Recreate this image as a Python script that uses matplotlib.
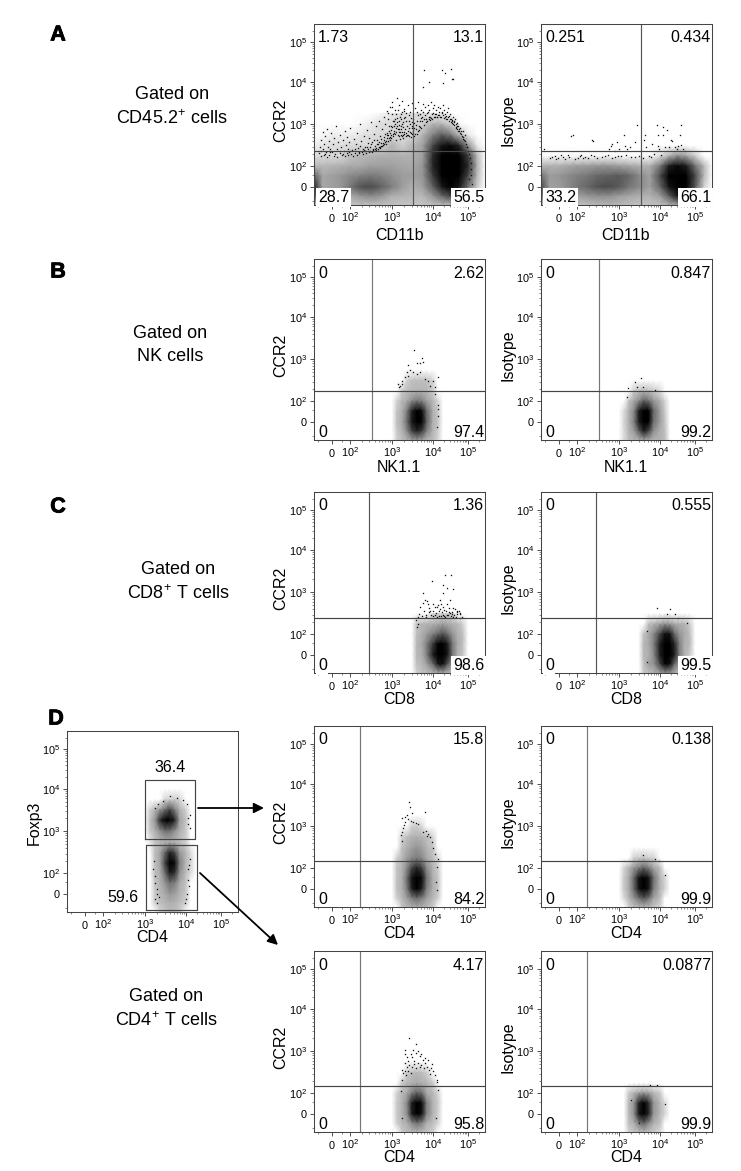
import numpy as np
import matplotlib
matplotlib.use('Agg')
import matplotlib.pyplot as plt
import matplotlib.patheffects as pe
from matplotlib.colors import LinearSegmentedColormap

plt.rcParams['font.family'] = ['Liberation Sans', 'DejaVu Sans']
plt.rcParams['mathtext.default'] = 'regular'

W, H = 741, 1171

#%%
# axis values and where they sit on the biexponential axis (pixels from axis start)
AXIS_VALUES = [-150, 0, 100, 1000, 10000, 100000, 300000]
X_AXIS_POS = [0, 18, 36, 78, 119, 154, 171]
Y_AXIS_POS = [0, 18, 39, 81, 123, 163, 181]
MAJOR_TICKS = [0, 100, 1000, 10000, 100000]
MAJOR_LABELS = ['0', '$10^{2}$', '$10^{3}$', '$10^{4}$', '$10^{5}$']
MINOR_TICKS = [-100, 50, 200, 300, 400, 500, 600, 700, 800, 900,
               2000, 3000, 4000, 5000, 6000, 7000, 8000, 9000,
               20000, 30000, 40000, 50000, 60000, 70000, 80000, 90000, 200000]

# density grids, darkness 0-100, rows top to bottom
WIDE_X = [-150, -60, 0, 45, 100, 180, 320, 560, 1000, 1800, 3200, 5600, 10000, 18000, 32000, 56000, 100000, 180000, 300000]
NARROW_X = [1000, 1320, 1750, 2300, 3050, 4000, 5300, 7000, 10000, 13800, 19000]
HIGH_X = [3050, 4000, 5300, 7000, 10000, 13800, 19000, 26000, 36000, 50000, 70000, 100000]

A1_Y = [1800, 1000, 560, 320, 180, 100, 45, 0, -60, -150]
A1_D = [
    [0, 0, 0, 0, 0, 0, 0, 1, 3, 4, 4, 4, 2, 1, 0, 0, 0, 0, 0],
    [0, 0, 0, 0, 0, 1, 2, 4, 6, 6, 6, 10, 28, 28, 10, 1, 0, 0, 0],
    [0, 1, 2, 2, 2, 3, 4, 6, 6, 6, 6, 28, 45, 55, 48, 25, 3, 0, 0],
    [2, 3, 4, 4, 5, 6, 6, 10, 28, 12, 28, 35, 62, 80, 85, 72, 40, 3, 0],
    [4, 5, 5, 6, 18, 25, 28, 30, 30, 30, 30, 35, 70, 95, 100, 90, 65, 25, 0],
    [25, 25, 28, 30, 32, 32, 35, 35, 35, 33, 32, 38, 72, 100, 100, 95, 70, 30, 0],
    [55, 33, 35, 38, 42, 45, 47, 45, 40, 36, 35, 38, 65, 95, 100, 90, 62, 25, 0],
    [75, 33, 35, 38, 48, 58, 60, 54, 45, 36, 30, 35, 55, 78, 92, 78, 50, 15, 0],
    [62, 28, 28, 28, 32, 38, 42, 38, 30, 28, 25, 25, 38, 52, 62, 55, 28, 5, 0],
    [20, 18, 18, 18, 18, 20, 20, 20, 20, 18, 18, 18, 22, 25, 25, 20, 10, 0, 0],
]
A2_Y = [320, 180, 100, 45, 0, -60, -150]
A2_D = [
    [0] * 19,
    [1, 1, 1, 1, 1, 1, 1, 1, 1, 1, 1, 1, 5, 30, 42, 35, 15, 0, 0],
    [28, 30, 30, 33, 35, 36, 38, 38, 36, 33, 30, 30, 48, 75, 85, 75, 50, 25, 0],
    [50, 36, 38, 42, 45, 48, 52, 54, 56, 52, 42, 35, 60, 90, 100, 95, 62, 25, 0],
    [62, 35, 36, 42, 48, 52, 58, 60, 56, 48, 42, 35, 52, 80, 100, 95, 58, 10, 0],
    [52, 28, 28, 30, 34, 38, 40, 40, 36, 33, 30, 28, 36, 55, 80, 70, 30, 0, 0],
    [20, 18, 18, 20, 20, 22, 25, 28, 25, 22, 20, 20, 22, 30, 35, 28, 10, 0, 0],
]
B1_Y = [560, 320, 180, 100, 45, 0, -60, -150]
B1_D = [
    [0] * 11,
    [0, 0, 0, 10, 20, 22, 22, 20, 8, 0, 0],
    [0, 0, 15, 22, 25, 28, 28, 25, 15, 0, 0],
    [0, 10, 25, 32, 42, 48, 45, 35, 25, 8, 0],
    [0, 18, 30, 46, 72, 92, 85, 52, 30, 15, 0],
    [0, 20, 32, 50, 78, 100, 90, 55, 30, 18, 0],
    [0, 15, 28, 42, 62, 72, 65, 45, 28, 12, 0],
    [0, 12, 22, 28, 35, 38, 35, 28, 22, 8, 0],
]
B2_Y = [320, 180, 100, 45, 0, -60, -150]
B2_D = [
    [0] * 11,
    [0, 0, 0, 15, 22, 25, 22, 15, 5, 0, 0],
    [0, 0, 20, 33, 42, 55, 50, 38, 30, 8, 0],
    [0, 5, 30, 42, 75, 100, 90, 52, 35, 15, 0],
    [0, 8, 30, 45, 75, 100, 90, 50, 35, 18, 0],
    [0, 5, 28, 36, 55, 75, 62, 40, 30, 22, 0],
    [0, 5, 22, 28, 30, 35, 32, 28, 28, 22, 0],
]
C1_Y = [320, 180, 100, 45, 0, -60, -150]
C1_D = [
    [0, 0, 0, 0, 5, 8, 10, 10, 8, 0, 0, 0],
    [0, 18, 25, 28, 30, 32, 35, 32, 28, 25, 12, 0],
    [0, 22, 30, 36, 45, 52, 58, 50, 38, 30, 22, 0],
    [0, 25, 32, 45, 65, 88, 100, 75, 48, 32, 22, 0],
    [0, 25, 30, 45, 75, 100, 100, 80, 48, 30, 18, 0],
    [0, 20, 25, 35, 52, 78, 82, 58, 35, 28, 10, 0],
    [0, 10, 20, 22, 28, 32, 32, 28, 25, 20, 0, 0],
]
C2_Y = [320, 180, 100, 45, 0, -60, -150]
C2_D = [
    [0] * 12,
    [0, 0, 22, 28, 35, 40, 38, 32, 30, 28, 15, 0],
    [0, 18, 32, 42, 62, 82, 80, 52, 38, 32, 22, 0],
    [0, 25, 32, 45, 75, 100, 100, 70, 45, 30, 25, 0],
    [0, 25, 30, 42, 75, 100, 100, 75, 45, 30, 15, 0],
    [0, 20, 35, 38, 62, 88, 82, 52, 35, 10, 0, 0],
    [0, 15, 22, 28, 35, 40, 38, 30, 20, 0, 0, 0],
]
D1_Y = [1800, 1000, 560, 320, 180, 100, 45, 0, -60, -150]
D1_D = [
    [0] * 11,
    [0, 0, 0, 0, 10, 12, 5, 0, 0, 0, 0],
    [0, 0, 10, 22, 28, 30, 28, 22, 8, 0, 0],
    [0, 0, 20, 30, 35, 38, 35, 28, 18, 0, 0],
    [0, 12, 25, 36, 42, 46, 42, 33, 22, 5, 0],
    [0, 18, 28, 42, 62, 72, 64, 42, 28, 12, 0],
    [0, 20, 30, 50, 80, 100, 85, 50, 30, 18, 0],
    [0, 20, 30, 46, 75, 90, 75, 46, 30, 18, 0],
    [0, 12, 25, 36, 46, 52, 46, 36, 25, 12, 0],
    [0, 0, 18, 25, 30, 32, 30, 25, 15, 0, 0],
]
D2_Y = [320, 180, 100, 45, 0, -60, -150]
D2_D = [
    [0] * 11,
    [0, 0, 0, 12, 15, 18, 12, 10, 0, 0, 0],
    [0, 8, 28, 38, 46, 54, 46, 34, 22, 0, 0],
    [0, 15, 32, 52, 82, 100, 80, 50, 28, 8, 0],
    [0, 15, 32, 52, 80, 100, 80, 46, 28, 10, 0],
    [0, 5, 28, 38, 50, 58, 50, 34, 22, 0, 0],
    [0, 0, 10, 22, 25, 28, 25, 18, 8, 0, 0],
]
E1_Y = [560, 320, 180, 100, 45, 0, -60, -150]
E1_D = [
    [0] * 11,
    [0, 0, 0, 12, 22, 25, 22, 12, 0, 0, 0],
    [0, 0, 15, 25, 30, 32, 30, 28, 15, 0, 0],
    [0, 10, 25, 32, 45, 54, 50, 32, 25, 8, 0],
    [0, 15, 28, 42, 75, 100, 85, 46, 28, 15, 0],
    [0, 15, 28, 40, 75, 100, 82, 45, 28, 12, 0],
    [0, 12, 25, 30, 42, 50, 44, 30, 22, 8, 0],
    [0, 0, 15, 22, 25, 28, 25, 20, 12, 0, 0],
]
E2_Y = [180, 100, 45, 0, -60, -150]
E2_D = [
    [0] * 11,
    [0, 0, 15, 28, 35, 38, 35, 25, 15, 0, 0],
    [0, 0, 25, 38, 72, 92, 68, 38, 25, 5, 0],
    [0, 0, 25, 40, 78, 100, 72, 38, 25, 8, 0],
    [0, 0, 22, 30, 46, 54, 42, 30, 20, 0, 0],
    [0, 0, 10, 18, 22, 25, 20, 15, 5, 0, 0],
]
F_Y = [10000, 5600, 3200, 1800, 1000, 560, 320, 180, 100, 45, 0, -60, -150]
F_D = [
    [0] * 11,
    [0, 0, 0, 0, 8, 12, 15, 8, 0, 0, 0],
    [0, 10, 28, 38, 50, 62, 46, 30, 12, 0, 0],
    [0, 20, 38, 68, 92, 100, 72, 35, 18, 0, 0],
    [0, 15, 30, 40, 50, 50, 40, 30, 15, 0, 0],
    [0, 3, 18, 25, 28, 30, 28, 22, 10, 0, 0],
    [0, 0, 22, 33, 52, 72, 62, 38, 25, 5, 0],
    [0, 0, 22, 33, 62, 100, 85, 46, 25, 8, 0],
    [0, 0, 22, 30, 50, 75, 68, 40, 22, 5, 0],
    [0, 0, 18, 28, 38, 50, 46, 32, 18, 0, 0],
    [0, 0, 15, 25, 32, 38, 35, 28, 15, 0, 0],
    [0, 0, 10, 20, 25, 30, 28, 22, 10, 0, 0],
    [0, 0, 0, 10, 18, 25, 22, 15, 0, 0, 0],
]

#%%
# single events
A1_DOTS = [
    (-90, 210), (-80, 300), (-75, 420), (-70, 180), (-60, 640), (-55, 260), (-50, 350), (-45, 200), (-40, 520),
    (-35, 230), (-30, 780), (-25, 300), (-20, 410), (-15, 190), (-10, 270), (-5, 610), (0, 220), (5, 340), (10, 480),
    (15, 200), (20, 890), (25, 260), (30, 380), (35, 215), (40, 560), (45, 300), (50, 190), (55, 430), (60, 240),
    (65, 700), (70, 330), (75, 210), (80, 500), (85, 270), (90, 390), (95, 225), (100, 820),
    (115, 250), (125, 450), (135, 215), (145, 340), (150, 620), (165, 280), (175, 230), (185, 980), (195, 400),
    (210, 260), (220, 520), (235, 300), (245, 240), (260, 740), (275, 360), (285, 265), (300, 480), (320, 290),
    (335, 1100), (350, 390), (365, 270), (380, 600), (400, 320), (420, 880), (440, 280), (460, 440), (480, 340), (500, 1200),
    (520, 300), (540, 520), (560, 360), (590, 780), (610, 330), (640, 1500), (660, 420), (690, 1000), (720, 350),
    (750, 2000), (770, 560), (800, 410), (830, 1300), (860, 700), (880, 430), (910, 2600), (940, 900), (970, 480),
    (1000, 3300), (1020, 1700), (1060, 520), (1100, 1150), (1140, 620), (1180, 2200), (1220, 800), (1260, 440),
    (1300, 4200), (1350, 1400), (1400, 560), (1450, 950), (1500, 2800), (1550, 640), (1600, 460), (1650, 1700),
    (1700, 780), (1750, 3600), (1800, 520), (1850, 1100), (1900, 480), (1950, 2300), (2000, 660),
    (900, 500), (1100, 700), (1300, 900), (1500, 1200), (700, 600), (800, 1800), (1000, 2600), (1200, 1300),
    (1500, 640), (1800, 1000), (2200, 1800), (2600, 800), (3000, 1100), (3500, 800), (4000, 1200), (4500, 900),
    (5000, 1400), (2000, 2000), (1700, 1300),
    (2100, 1500), (2200, 520), (2300, 880), (2400, 2900), (2500, 560), (2600, 1200), (2700, 660), (2800, 1900),
    (2900, 500), (3000, 800), (3100, 3100), (3200, 620), (3300, 1350), (3400, 520), (3600, 2400), (3800, 950),
    (4000, 600), (4200, 1600), (4400, 3400), (4600, 720), (4800, 1150), (5000, 2100), (5200, 800), (5500, 1500),
    (5800, 3000), (6000, 950), (6300, 2500), (6600, 1100), (7000, 1800), (7400, 2800), (7800, 1300), (8200, 2200),
    (8600, 1500), (9000, 3300), (9500, 1700), (10000, 2400),
    (10500, 1500), (11000, 2900), (11500, 1700), (12000, 2100), (12800, 1450), (13500, 2600), (14200, 1600),
    (15000, 1950), (16000, 2400), (17000, 1500), (18000, 1800), (19000, 2800), (20000, 1400), (21000, 2100),
    (22000, 1700), (23000, 1300), (24500, 1900), (26000, 1500), (27000, 2400), (29000, 1200), (31000, 1700),
    (33000, 1300), (35000, 1050), (37000, 1500), (39000, 1150), (41000, 950), (43000, 1300), (45000, 850),
    (48000, 1050), (50000, 750), (53000, 900), (56000, 680),
    (60000, 800), (65000, 600), (70000, 680), (72000, 500), (78000, 420), (80000, 560), (88000, 350), (92000, 290),
    (98000, 240), (105000, 200), (112000, 160), (118000, 120), (120000, 80), (125000, 50), (130000, 10),
    (115000, -20), (122000, -60), (110000, 30),
    (18000, 20000), (22000, 17000), (33000, 21000), (34000, 12000), (38000, 12000), (19000, 9500), (6000, 20000),
    (5600, 7500), (8000, 10000),
    # dense rim just over the main population
    (-70, 240), (-52, 190), (-33, 172), (-12, 225), (8, 182), (22, 172), (38, 240), (52, 205), (68, 178), (88, 196),
    (108, 205), (122, 178), (138, 262), (152, 195), (168, 212), (182, 320), (198, 226), (215, 198), (228, 248),
    (252, 212), (268, 295), (292, 222), (312, 240), (328, 350), (345, 232), (372, 250), (392, 420), (412, 262),
    (432, 250), (452, 340), (472, 270), (492, 298), (512, 380), (532, 288), (552, 305), (572, 450), (598, 315),
    (622, 360), (648, 340), (672, 500), (698, 380), (728, 410), (758, 470), (788, 620), (818, 560), (848, 480),
    (876, 900), (905, 610), (932, 720), (965, 560), (992, 840), (1030, 1150), (1075, 590), (1120, 910), (1165, 1000),
    (1210, 590), (1245, 1700), (1280, 660), (1325, 1100), (1370, 760), (1420, 2100), (1470, 780), (1520, 540),
    (1575, 1500), (1625, 900), (1675, 560), (1725, 1900), (1775, 640), (1825, 840), (1875, 560), (1925, 1400),
    (1975, 580), (2050, 780), (2150, 620), (2250, 1150), (2350, 560), (2450, 700), (2550, 1600), (2650, 520),
    (2750, 1000), (2850, 620), (2950, 1400), (3050, 580), (3150, 900), (3250, 680), (3450, 1050), (3650, 600),
    (3900, 760), (4100, 1900), (4300, 680), (4700, 1700), (4900, 850), (5300, 1200), (5700, 1950), (6100, 1300),
    (6500, 1600), (6900, 1300), (7300, 1150), (7700, 1950), (8100, 1500), (8500, 1250), (9000, 1400), (9600, 1350),
    (10200, 1800), (11200, 1450), (12300, 1750), (13200, 1500), (14800, 1650), (15800, 1500), (17500, 1950),
    (19500, 1600), (21500, 1500), (23500, 1550), (25200, 1300), (28000, 1550), (30000, 1300), (32000, 1100),
    (34000, 1200), (36000, 1250), (38000, 1000), (40000, 1100), (44000, 1000), (46000, 800), (49000, 900),
    (51000, 680), (55000, 780), (58000, 620), (62000, 680), (67000, 520), (74000, 460), (84000, 400), (95000, 300),
]
A2_DOTS = [
    (-110, 260), (70, 560), (60, 540), (240, 420), (250, 410), (640, 320), (700, 340), (880, 380), (1300, 560),
    (1400, 320), (2700, 950), (4200, 560), (4000, 420), (8300, 950), (8800, 560), (12000, 860), (12000, 560),
    (8800, 320), (21000, 420), (22000, 400), (39000, 950), (37000, 560), (33000, 320), (40000, 330), (1600, 260),
    (1000, 260), (600, 260), (800, 240), (-55, 160), (-25, 185), (-5, 160), (10, 190), (30, 155), (50, 175),
    (105, 165), (130, 190), (160, 170), (220, 190), (320, 165), (480, 180), (700, 165), (950, 185), (1900, 290),
    (2400, 380), (4600, 290), (6500, 350), (9500, 260), (14000, 300), (16000, 720), (18000, 290), (26000, 300),
    (30000, 270), (45000, 260), (52000, 240), (2000, 170), (3000, 185), (5500, 180), (7000, 200),
    (-40, 170), (-15, 152), (20, 168), (42, 190), (85, 155), (118, 180), (145, 158), (190, 165), (260, 178),
    (400, 170), (560, 190), (820, 172), (1150, 178), (1500, 190), (2400, 170), (3800, 165), (6200, 175), (10500, 190),
]
B1_DOTS = [
    (3500, 1640), (5300, 1040), (4000, 790), (2500, 720), (4800, 810), (5800, 860), (2750, 550), (3300, 500),
    (4000, 460), (4800, 500), (2280, 500), (2500, 415), (2070, 380), (1720, 320), (1570, 240), (1500, 220),
    (6400, 345), (10200, 320), (14200, 380), (8500, 240), (11400, 220), (13500, 75), (14200, 55), (13500, 25),
    (11400, 150), (12800, -30), (1400, 265), (1800, 265), (7700, 320),
]
B2_DOTS = [(3400, 375), (2450, 290), (2700, 220), (1660, 210), (1570, 125), (7500, 190), (3900, 230)]
C1_DOTS = [
    (22000, 2500), (32000, 2520), (9500, 1830), (19000, 1470), (5800, 930), (6400, 640), (19000, 930), (24600, 1220),
    (38000, 1200), (4800, 445), (5700, 548), (7100, 625), (8500, 372), (10300, 530), (12700, 455), (15800, 655),
    (19400, 460), (24800, 535), (30300, 640), (37500, 440), (47000, 375), (59500, 305), (66000, 262),
    (4600, 318), (5900, 362), (6900, 302), (8200, 438), (10100, 358), (12400, 322), (15300, 376), (19900, 298),
    (24000, 365), (31000, 322), (38500, 268), (47900, 315), (58000, 255), (4300, 262), (5300, 284), (7500, 545),
    (9100, 292), (11500, 442), (14100, 505), (17200, 282), (21000, 385), (27200, 292), (34500, 352), (42000, 412),
    (54000, 366), (13000, 272), (16100, 412), (22200, 268), (28400, 432), (3900, 222), (4300, 182), (4000, 150),
    (6600, 268), (7900, 355), (9900, 280), (11300, 300), (14700, 285), (18000, 342), (20600, 275), (25600, 290),
    (29300, 350), (33000, 280), (36000, 312), (41000, 290), (45000, 272), (50000, 340), (60000, 330), (16800, 520),
]
C2_DOTS = [
    (8300, 440), (19000, 410), (15500, 320), (26800, 320), (32600, 255), (58000, 195), (4700, 120), (4700, -40),
]
D1_DOTS = [
    (2640, 3800), (2750, 2900), (3000, 2000), (2280, 1830), (1720, 1520), (6400, 2190), (3300, 1270), (2070, 1270),
    (1900, 880), (1800, 730), (1720, 460), (5800, 730), (7700, 670), (9300, 420), (10200, 320), (11400, 225),
    (14200, 170), (12800, 105), (12400, 28), (12800, -5), (2400, 1500), (2900, 1350), (3800, 1150), (4300, 1100),
    (2100, 1600), (1950, 1050), (6800, 780), (7000, 600), (8300, 560), (1680, 620),
]
D2_DOTS = [(3800, 210), (7500, 170), (9500, 150), (14000, 60)]
E1_DOTS = [
    (2640, 2020), (3800, 1480), (2070, 1080), (2130, 870), (2260, 745), (2520, 590), (2830, 860), (3040, 715),
    (3280, 1040), (3760, 905), (4350, 1020), (4750, 760), (5200, 850), (5850, 625), (6300, 710), (2060, 525),
    (2300, 435), (2610, 490), (3020, 440), (3350, 590), (3520, 495), (3820, 405), (4260, 530), (4840, 435),
    (5240, 490), (5900, 405), (6480, 520), (6950, 435), (7800, 365), (8400, 300), (9400, 500), (2100, 340),
    (1880, 305), (1740, 370), (2250, 285), (2480, 345), (2900, 310), (1790, 215), (10100, 345), (11500, 285),
    (12700, 215), (14300, 122), (13300, 195), (1700, 112), (1800, -25), (12400, -25), (7600, 620), (9100, 410),
]
E2_DOTS = [(5600, 165), (2000, 60), (14000, 40), (3000, -60), (8500, 160)]
F_DOTS = [
    (4100, 7000), (1750, 3500), (2100, 4300), (8500, 5400), (10400, 4300), (11400, 2000), (13000, 2400), (11400, 1500),
    (13000, 1200), (2750, 5200), (5900, 6100), (1570, 125), (1750, 45), (1930, 0), (1750, -30), (1930, -60),
    (11400, 60), (13000, 230), (10400, 0), (9800, -30), (9300, -60), (2000, 20), (2150, -15), (11400, 125),
    (12000, 30), (1650, 200), (11800, 160), (1800, 80),
]

# quadrant numbers: upper left, upper right, lower left, lower right
A1_NUM = ['1.73', '13.1', '28.7', '56.5']
A2_NUM = ['0.251', '0.434', '33.2', '66.1']
B1_NUM = ['0', '2.62', '0', '97.4']
B2_NUM = ['0', '0.847', '0', '99.2']
C1_NUM = ['0', '1.36', '0', '98.6']
C2_NUM = ['0', '0.555', '0', '99.5']
D1_NUM = ['0', '15.8', '0', '84.2']
D2_NUM = ['0', '0.138', '0', '99.9']
E1_NUM = ['0', '4.17', '0', '95.8']
E2_NUM = ['0', '0.0877', '0', '99.9']

GATED_TEXT = ['Gated on\nCD45.2$^{+}$ cells', 'Gated on\nNK cells', 'Gated on\nCD8$^{+}$ T cells', 'Gated on\nCD4$^{+}$ T cells']
FOXP3_GATES = [(1000, 17800, 650, 16800), (1050, 21000, -130, 490)]
FOXP3_NUM = ['36.4', '59.6']

#%%
# steep at the light end so the populations get a clear edge, black plateau at the core
DARK = LinearSegmentedColormap.from_list('dark', [(0, '#ffffff'), (0.04, '#dcdcdc'), (0.3, '#b0b0b0'),
                                                  (0.5, '#707070'), (0.7, '#282828'), (0.9, '#000000'), (1, '#000000')])


def make_scale(pos):
    nodes = np.arcsinh(np.array(AXIS_VALUES) / 70.0)
    pos = np.array(pos, dtype=float)

    def forward(v):
        return np.interp(np.arcsinh(np.asarray(v, dtype=float) / 70.0), nodes, pos)

    def inverse(p):
        return 70.0 * np.sinh(np.interp(p, pos, nodes))
    return forward, inverse


fig = plt.figure(figsize=(W / 100, H / 100), dpi=100)
over = fig.add_axes([0, 0, 1, 1], zorder=10)
over.set_xlim(0, W)
over.set_ylim(H, 0)
over.axis('off')
over.patch.set_alpha(0)


def flow_panel(left, top, grid_x, grid_y, grid, dots):
    ax = fig.add_axes([left / W, 1 - (top + 181) / H, 171 / W, 181 / H])
    ax.set_xscale('function', functions=make_scale(X_AXIS_POS))
    ax.set_yscale('function', functions=make_scale(Y_AXIS_POS))
    ax.pcolormesh(grid_x, grid_y, np.array(grid, dtype=float), shading='gouraud', cmap=DARK, vmin=0, vmax=100, rasterized=True)
    ax.plot([d[0] for d in dots], [d[1] for d in dots], ls='', marker='s', ms=0.95, mew=0, color='#111111')
    ax.set_xlim(-150, 300000)
    ax.set_ylim(-150, 300000)
    for axis in (ax.xaxis, ax.yaxis):
        axis.set_ticks(MAJOR_TICKS, MAJOR_LABELS)
        axis.set_ticks(MINOR_TICKS, minor=True)
    ax.tick_params(which='major', length=3, width=0.6, color='#333333', labelsize=7.8, pad=2)
    ax.tick_params(axis='x', which='major', pad=9.2)
    ax.tick_params(which='minor', length=1.5, width=0.4, color='#333333')
    for lab in ax.get_xticklabels():
        lab.set_verticalalignment('baseline')
    for s in ax.spines.values():
        s.set_linewidth(0.75)
        s.set_color('#444444')
    return ax


def quad_panel(left, top, grid_x, grid_y, grid, dots, gate_x, gate_y, nums, xlabel, ylabel, boxed=False, xlabel_gap=28):
    ax = flow_panel(left, top, grid_x, grid_y, grid, dots)
    ax.axvline(gate_x, color='#555555' if boxed else '#777777', lw=0.85)
    ax.axhline(gate_y, color='#444444', lw=0.85)
    bottom = top + 181
    fs = 11.5
    over.text(left + 4, top + 14, nums[0], fontsize=fs, ha='left', va='center')
    over.text(left + 170, top + 14, nums[1], fontsize=fs, ha='right', va='center')
    box = dict(facecolor='white', edgecolor='none', pad=1.2) if boxed else None
    over.text(left + 4, bottom - 7.5, nums[2], fontsize=fs, ha='left', va='center', bbox=box)
    over.text(left + 170, bottom - 7.5, nums[3], fontsize=fs, ha='right', va='center', bbox=box)
    over.text(left + 85, bottom + xlabel_gap, xlabel, fontsize=fs, ha='center', va='center')
    over.text(left - 33, top + 96, ylabel, fontsize=fs, rotation=90, ha='center', va='center')
    return ax


quad_panel(314, 24, WIDE_X, A1_Y, A1_D, A1_DOTS, 3300, 240, A1_NUM, 'CD11b', 'CCR2', boxed=True, xlabel_gap=30)
quad_panel(541, 24, WIDE_X, A2_Y, A2_D, A2_DOTS, 3400, 240, A2_NUM, 'CD11b', 'Isotype', boxed=True, xlabel_gap=30)
quad_panel(314, 259, NARROW_X, B1_Y, B1_D, B1_DOTS, 350, 185, B1_NUM, 'NK1.1', 'CCR2')
quad_panel(541, 259, NARROW_X, B2_Y, B2_D, B2_DOTS, 350, 185, B2_NUM, 'NK1.1', 'Isotype')
quad_panel(314, 492, HIGH_X, C1_Y, C1_D, C1_DOTS, 300, 250, C1_NUM, 'CD8', 'CCR2', boxed=True, xlabel_gap=27)
quad_panel(541, 492, HIGH_X, C2_Y, C2_D, C2_DOTS, 300, 250, C2_NUM, 'CD8', 'Isotype', boxed=True, xlabel_gap=27)
quad_panel(314, 726, NARROW_X, D1_Y, D1_D, D1_DOTS, 185, 155, D1_NUM, 'CD4', 'CCR2', xlabel_gap=27)
quad_panel(541, 726, NARROW_X, D2_Y, D2_D, D2_DOTS, 185, 155, D2_NUM, 'CD4', 'Isotype', xlabel_gap=27)
quad_panel(314, 951, NARROW_X, E1_Y, E1_D, E1_DOTS, 185, 155, E1_NUM, 'CD4', 'CCR2', xlabel_gap=26)
quad_panel(541, 951, NARROW_X, E2_Y, E2_D, E2_DOTS, 185, 155, E2_NUM, 'CD4', 'Isotype', xlabel_gap=26)

# Foxp3 / CD4 gating plot
ax = flow_panel(67, 731, NARROW_X, F_Y, F_D, F_DOTS)
for x0, x1, y0, y1 in FOXP3_GATES:
    ax.plot([x0, x1, x1, x0, x0], [y0, y0, y1, y1, y0], color='#444444', lw=0.85)
over.text(170, 767, FOXP3_NUM[0], fontsize=11.5, ha='center', va='center')
over.text(123, 897, FOXP3_NUM[1], fontsize=11.5, ha='center', va='center')
over.text(152, 938, 'CD4', fontsize=11.5, ha='center', va='center')
over.text(34, 823, 'Foxp3', fontsize=11.5, rotation=90, ha='center', va='center')

# arrows between the gates and the plots
arrow = dict(arrowstyle='-|>', color='black', lw=1.3, mutation_scale=15, shrinkA=0, shrinkB=0)
over.annotate('', xy=(264, 808), xytext=(198, 808), arrowprops=arrow)
over.annotate('', xy=(278, 945), xytext=(200, 873), arrowprops=arrow)

for txt, cx, cy in zip(GATED_TEXT, [172, 170, 178, 166], [107, 345, 582, 1009]):
    over.text(cx, cy, txt, fontsize=13, ha='center', va='center', linespacing=1.4)

for letter, cx, cy in zip('ABCD', [58, 58, 58, 56], [35, 272, 507, 719]):
    over.text(cx, cy, letter, fontsize=15.5, fontweight='bold', ha='center', va='center',
              path_effects=[pe.withStroke(linewidth=0.6, foreground='black')])

fig.savefig('out.png', dpi=100)
